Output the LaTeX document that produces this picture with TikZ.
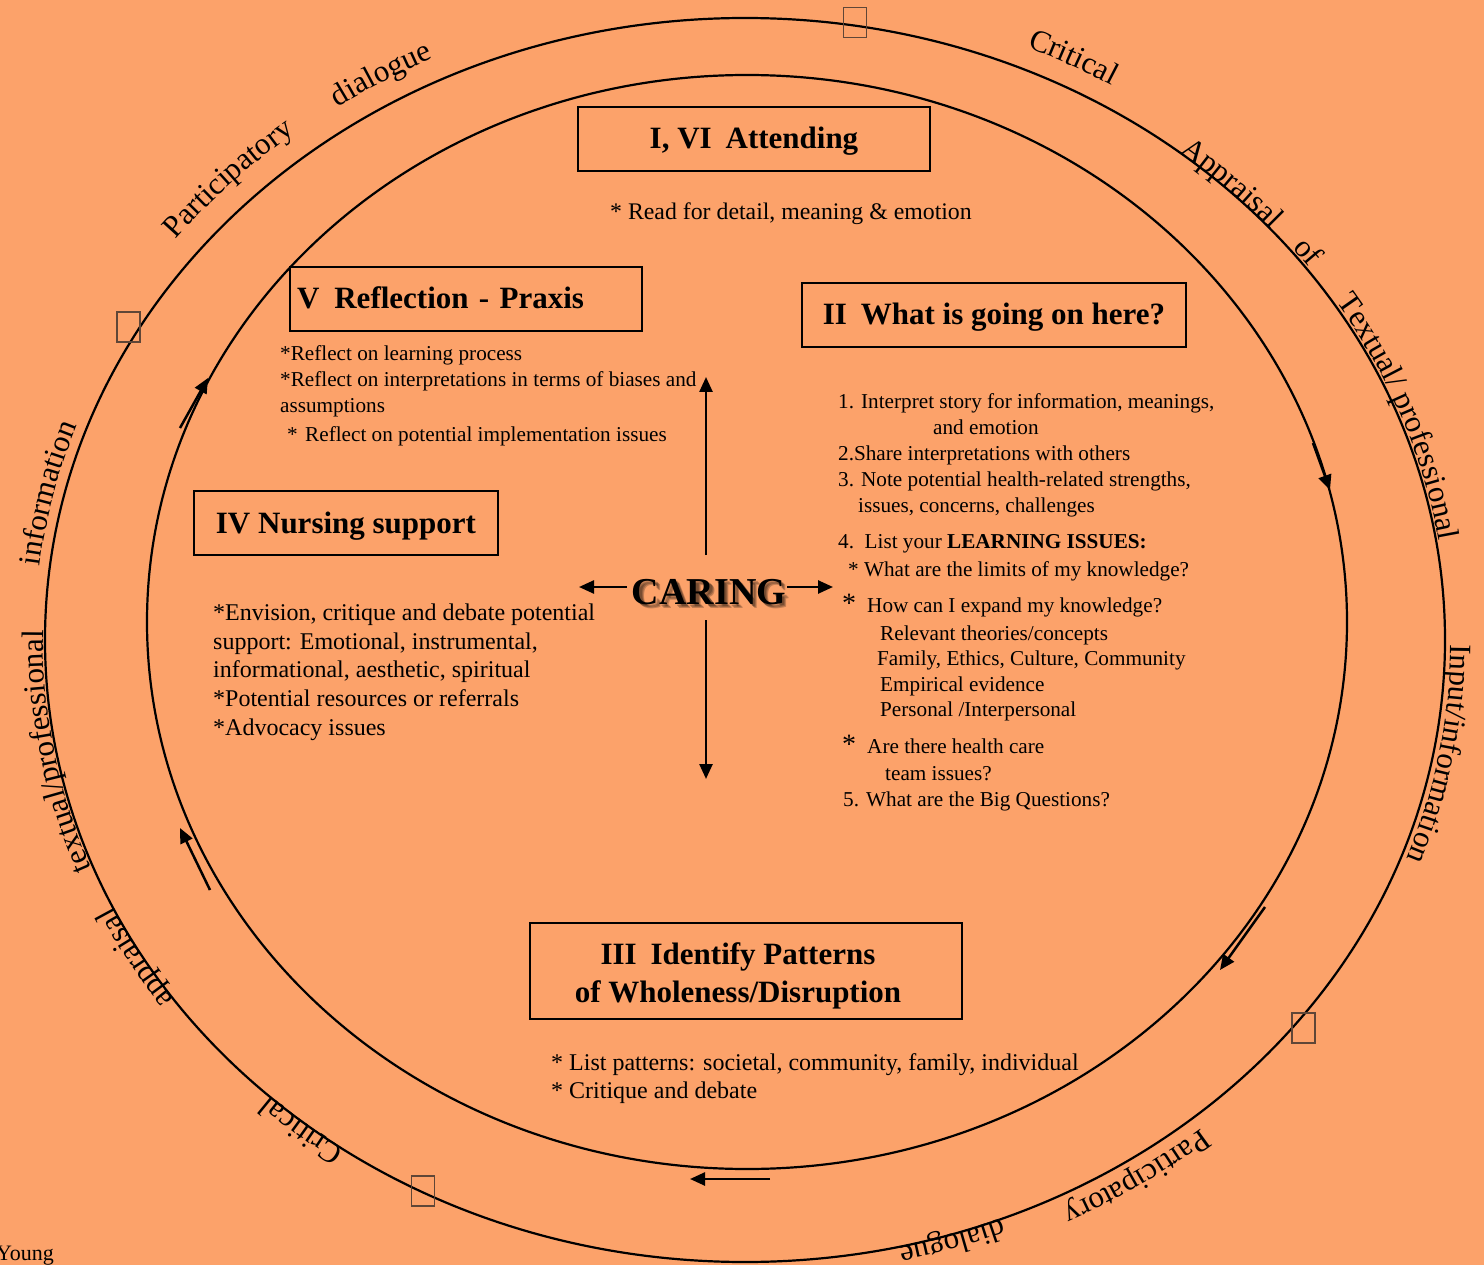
\documentclass[tikz,border=0pt]{standalone}
\usepackage{fontspec}
\setmainfont{Liberation Serif}
\usetikzlibrary{arrows.meta,decorations.text}
\definecolor{bg}{RGB}{252,162,106}
\definecolor{sqcol}{RGB}{95,70,55}
\newcommand{\ringfont}{\fontsize{31}{31}\selectfont}
\newcommand{\ringword}[3]{%
  \path[decorate,decoration={text along path,text align=center,text={|\ringfont|#3}}]
    ([shift={(745,-640)}]{25-#1}:{700+#2} and {622+#2})
    arc[start angle={25-#1}, end angle={-25-#1}, x radius={700+#2}, y radius={622+#2}];}
\tikzset{
  ringline/.style={line width=2.2pt},
  titlebox/.style={draw, line width=2pt, font=\fontsize{31}{38}\selectfont\bfseries, inner sep=0pt, text height=24pt, text depth=4pt},
  tx/.style={inner sep=0pt, anchor=base west},
  fa/.style={tx, font=\fontsize{21.2}{25}\selectfont},
  fb/.style={tx, font=\fontsize{23.8}{28}\selectfont},
  fc/.style={tx, font=\fontsize{24}{29}\selectfont},
  star/.style={tx, font=\fontsize{28}{28}\selectfont},
  caringfont/.style={font=\fontsize{38}{38}\selectfont\bfseries, inner sep=0pt, anchor=base},
  shadowtext/.style={caringfont, text=black, opacity=0.22},
  arr/.style={line width=2.5pt, -{Triangle[length=15pt,width=13pt]}},
  sq/.style={draw=sqcol, line width=1.2pt, minimum width=23pt, minimum height=30pt, inner sep=0pt}
}
\begin{document}
\begin{tikzpicture}[x=1pt,y=1pt]
\fill[bg] (0,0) rectangle (1484,-1265);
\useasboundingbox (0,0) rectangle (1484,-1265);
% ellipses
\draw[ringline] (745,-640) ellipse [x radius=700, y radius=622];
\draw[ringline] (747,-622) ellipse [x radius=600, y radius=547];
% squares on the outer ring
\node[sq] (sq1) at (855,-22.5) {};
\node[sq] (sq2) at (128.5,-327) {};
\node[sq] (sq3) at (1303.5,-1028) {};
\node[sq] (sq4) at (423,-1191) {};
% ring words
\ringword{224.4}{25}{Participatory}
\ringword{239.6}{23}{dialogue}
\ringword{297.2}{22}{Critical}
\ringword{314.1}{0}{Appraisal}
\ringword{322.9}{3}{of}
\ringword{339.4}{3}{Textual/ professional}
\ringword{10.2}{6}{Input/information}
\ringword{56.4}{13}{Participatory}
\ringword{72.6}{0}{dialogue}
\ringword{129.5}{-1}{Critical}
\ringword{150.2}{0}{appraisal}
\ringword{169.9}{2}{textual/professional}
\ringword{193.0}{10}{information}
% ring arrows
\coordinate (ra1s) at (180,-428); \coordinate (ra1e) at (208,-378);
\coordinate (ra2s) at (1313,-443); \coordinate (ra2e) at (1330,-490);
\coordinate (ra3s) at (1265,-907); \coordinate (ra3e) at (1220,-970);
\coordinate (ra4s) at (770,-1179); \coordinate (ra4e) at (690,-1179);
\coordinate (ra5s) at (210,-890); \coordinate (ra5e) at (180,-828);
\draw[arr] (ra1s) -- (ra1e);
\draw[arr] (ra2s) -- (ra2e);
\draw[arr] (ra3s) -- (ra3e);
\draw[arr] (ra4s) -- (ra4e);
\draw[arr] (ra5s) -- (ra5e);
% title boxes
\node[titlebox, minimum width=352pt, minimum height=64pt] (att) at (754,-139) {I, VI\hspace{0.2em} Attending};
\node[titlebox, minimum width=352pt, minimum height=64pt, text width=338pt, align=left] (refl) at (466,-299) {V\hspace{0.15em} Reflection - Praxis};
\node[titlebox, minimum width=384pt, minimum height=64pt] (what) at (994,-315) {II\hspace{0.2em} What is going on here?};
\node[titlebox, minimum width=304pt, minimum height=64pt] (nurs) at (346,-523) {IV Nursing support};
\node[draw, line width=2pt, font=\fontsize{31}{38}\selectfont\bfseries, inner sep=0pt, minimum width=432pt, minimum height=96pt, align=center] (iii) at (746,-971) {\rule{0pt}{31pt}\hspace{-16pt}III\hspace{0.2em} Identify Patterns\\\hspace{-16pt}of Wholeness/Disruption};
% attending text
\node[fb] (at1) at (610,-220) {* Read for detail, meaning \& emotion};
% reflection text
\node[fa] (rf1) at (280,-361) {*Reflect on learning process};
\node[fa] (rf2) at (280,-387) {*Reflect on interpretations in terms of biases and};
\node[fa] (rf3) at (280,-412) {assumptions};
\node[fa] (rf4) at (287,-441) {*\hspace{0.1em} Reflect on potential implementation issues};
% what is going on text
\node[fa] (q1) at (838,-409) {1. Interpret story for information, meanings,};
\node[fa] (q2) at (933,-435) {and emotion};
\node[fa] (q3) at (838,-460) {2.Share interpretations with others};
\node[fa] (q4) at (838,-486) {3. Note potential health-related strengths,};
\node[fa] (q5) at (858,-512) {issues, concerns, challenges};
\node[fa] (q6) at (838,-548) {4.\hspace{0.5em}List your \textbf{LEARNING ISSUES:}};
\node[fa] (q7) at (848,-576) {* What are the limits of my knowledge?};
\node[star] (q8s) at (842,-612) {*};
\node[fa] (q8) at (867,-612) {How can I expand my knowledge?};
\node[fa] (q9) at (880,-640) {Relevant theories/concepts};
\node[fa] (q10) at (877,-665) {Family, Ethics, Culture, Community};
\node[fa] (q11) at (880,-691) {Empirical evidence};
\node[fa] (q12) at (880,-716) {Personal /Interpersonal};
\node[star] (q13s) at (842,-753) {*};
\node[fa] (q13) at (867,-753) {Are there health care};
\node[fa] (q14) at (885,-780) {team issues?};
\node[fa] (q15) at (843,-806) {5. What are the Big Questions?};
% nursing text
\node[fc] (n1) at (213,-620) {*Envision, critique and debate potential};
\node[fc] (n2) at (213,-649) {support: Emotional, instrumental,};
\node[fc] (n3) at (213,-677) {informational, aesthetic, spiritual};
\node[fc] (n4) at (213,-706) {*Potential resources or referrals};
\node[fc] (n5) at (213,-735) {*Advocacy issues};
% patterns text
\node[fc] (p1) at (551,-1070) {* List patterns: societal, community, family, individual};
\node[fc] (p2) at (551,-1098) {* Critique and debate};
% caring with soft shadow
\node[shadowtext] (carsh1) at (711.5,-606.5) {CARING};
\node[shadowtext] (carsh2) at (712.5,-607.5) {CARING};
\node[shadowtext] (carsh3) at (713.5,-608.5) {CARING};
\node[caringfont] (caring) at (709,-604) {CARING};
\coordinate (cl1) at (627,-587); \coordinate (cl2) at (579,-587);
\coordinate (cr1) at (787,-587); \coordinate (cr2) at (833,-587);
\coordinate (cu1) at (706,-555); \coordinate (cu2) at (706,-377);
\coordinate (cd1) at (706,-620); \coordinate (cd2) at (706,-779);
\draw[arr] (cl1) -- (cl2);
\draw[arr] (cr1) -- (cr2);
\draw[arr] (cu1) -- (cu2);
\draw[arr] (cd1) -- (cd2);
% author
\node[tx, font=\fontsize{22}{26}\selectfont] (young) at (-4,-1260) {Young};
\end{tikzpicture}
\end{document}
